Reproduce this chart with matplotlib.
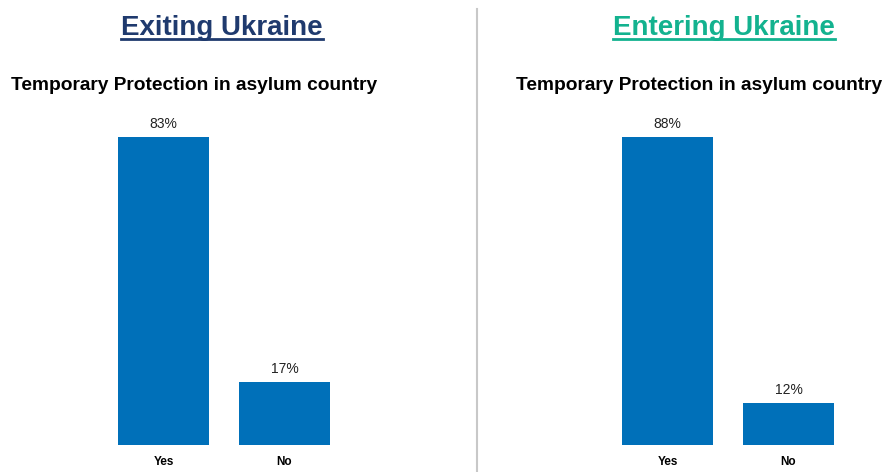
import matplotlib
matplotlib.use('Agg')
import matplotlib.pyplot as plt
from matplotlib.lines import Line2D

plt.rcParams['font.family'] = ['Liberation Sans', 'DejaVu Sans']

categories = ['Yes', 'No']
exiting = [83, 17]
entering = [88, 12]
panel_titles = ['Exiting Ukraine', 'Entering Ukraine']
title_colors = ['#1f3a6e', '#13b28f']
subtitle = 'Temporary Protection in asylum country'
bar_color = '#0070b9'

W, H = 883, 472
fig = plt.figure(figsize=(W / 100, H / 100), dpi=100)

def fx(px):
    return px / W

def fy(py):
    return 1 - py / H

bottom = fy(445)
top = fy(110)
panels = [(exiting, 103), (entering, 607)]

for vals, left in panels:
    ax = fig.add_axes([fx(left), bottom, fx(242), top - bottom])
    x = range(len(categories))
    ax.bar(x, vals, width=0.75, color=bar_color)
    ax.set_xlim(-0.5, 1.5)
    ax.set_ylim(0, max(vals) * 1.087)
    for xi, v in zip(x, vals):
        ax.text(xi, v + max(vals) * 0.018, f'{v}%', ha='center', va='bottom',
                fontsize=10, color='#222222')
    ax.set_xticks(list(x))
    ax.set_xticklabels(categories, fontsize=8.5, fontweight='bold')
    ax.tick_params(axis='x', length=0, pad=8)
    ax.set_yticks([])
    for s in ax.spines.values():
        s.set_visible(False)

# panel titles
titles = []
for t, c, cx in zip(panel_titles, title_colors, [222, 724]):
    titles.append(fig.text(fx(cx), fy(25), t, ha='center', va='center_baseline',
                           fontsize=20, fontweight='bold', color=c))

for cx in [194, 699]:
    fig.text(fx(cx), fy(85), subtitle, ha='center', va='center', fontsize=13.8,
             fontweight='heavy', color='black')

# divider
fig.add_artist(Line2D([fx(477), fx(477)], [fy(9), 0], color='#c8c8c8', lw=1.5))

# underline the titles
fig.canvas.draw()
r = fig.canvas.get_renderer()
for t, c in zip(titles, title_colors):
    bb = t.get_window_extent(renderer=r)
    y = fy(38.5)
    fig.add_artist(Line2D([bb.x0 / W, bb.x1 / W], [y, y], color=c, lw=2))

fig.savefig('out.png', dpi=100)
